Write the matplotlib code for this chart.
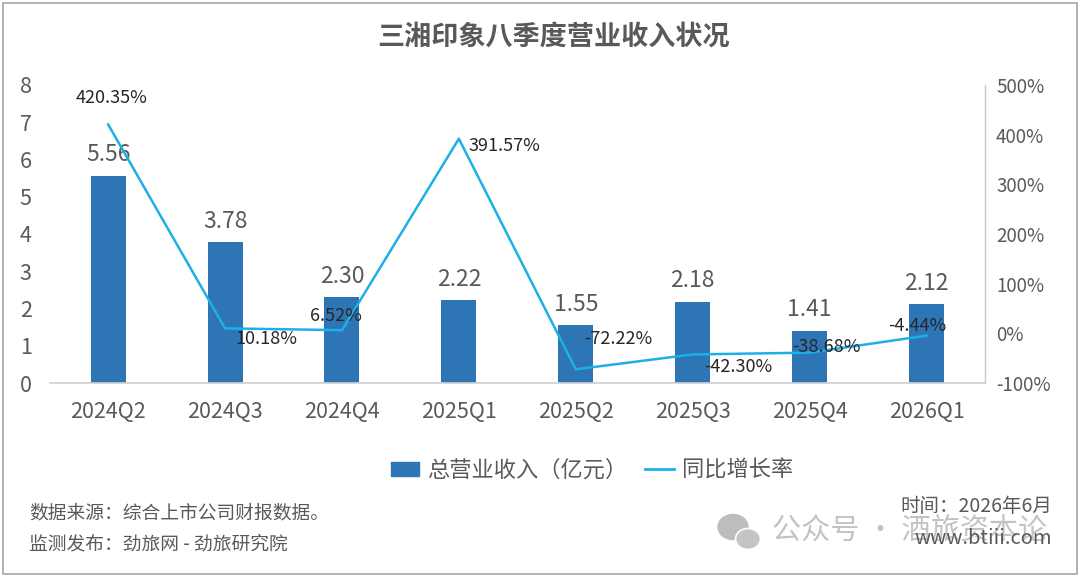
import matplotlib
matplotlib.use("Agg")
import matplotlib.pyplot as plt
from matplotlib.patches import Rectangle, Patch, Ellipse
from matplotlib.lines import Line2D
import numpy as np

plt.rcParams['font.family'] = ['Noto Sans CJK SC', 'DejaVu Sans']

# data
quarters = ['2024Q2', '2024Q3', '2024Q4', '2025Q1', '2025Q2', '2025Q3', '2025Q4', '2026Q1']
revenue = [5.56, 3.78, 2.30, 2.22, 1.55, 2.18, 1.41, 2.12]
growth = [420.35, 10.18, 6.52, 391.57, -72.22, -42.30, -38.68, -4.44]
left_ticks = [0, 1, 2, 3, 4, 5, 6, 7, 8]
right_ticks = [-100, 0, 100, 200, 300, 400, 500]

# label offsets for growth labels (pixels, right / up)
growth_offsets = [(3, 26), (41, -11), (-6, 14), (46, -7), (42, 30), (46, -13), (17, 6), (-9, 10)]

bar_color = '#2E75B6'
line_color = '#1DB0E6'
grey = '#595959'

fig = plt.figure(figsize=(10.8, 5.77), dpi=100)
fig.patches.append(Rectangle((0.003, 0.005), 0.994, 0.99, transform=fig.transFigure,
                             fill=False, edgecolor='#a6a6a6', linewidth=1.2))

ax = fig.add_axes([0.046, 0.336, 0.866, 0.517])
x = np.arange(len(quarters))
ax.bar(x, revenue, width=0.3, color=bar_color, zorder=2)
ax.set_xlim(-0.5, len(quarters) - 0.5)
ax.set_ylim(0, 8)
ax.set_yticks(left_ticks)
ax.set_xticks(x)
ax.set_xticklabels(quarters)
ax.tick_params(axis='both', length=0, labelsize=15.5, colors=grey)
ax.tick_params(axis='x', pad=13)
ax.tick_params(axis='y', pad=13)
for s in ['top', 'left', 'right']:
    ax.spines[s].set_visible(False)
ax.spines['bottom'].set_color('#d0d0d0')
ax.spines['bottom'].set_linewidth(1.2)

for xi, v in zip(x, revenue):
    ax.annotate('%.2f' % v, (xi, v), xytext=(0, 21), textcoords='offset pixels',
                ha='center', va='center', fontsize=16.5, color=grey)

ax2 = ax.twinx()
ax2.plot(x, growth, color=line_color, linewidth=1.8, zorder=3)
ax2.set_ylim(-100, 500)
ax2.set_yticks(right_ticks)
ax2.set_yticklabels(['%d%%' % t for t in right_ticks])
ax2.tick_params(axis='y', length=0, labelsize=13.5, colors=grey, pad=8)
for s in ['top', 'left', 'bottom']:
    ax2.spines[s].set_visible(False)
ax2.spines['right'].set_color('#c8c8c8')
ax2.spines['right'].set_linewidth(1)

for xi, g, (dx, dy) in zip(x, growth, growth_offsets):
    ax2.annotate('%.2f%%' % g, (xi, g), xytext=(dx, dy), textcoords='offset pixels',
                 ha='center', va='center', fontsize=13, color='#262626', zorder=4)

fig.text(0.513, 0.936, '三湘印象八季度营业收入状况', ha='center', va='center',
         fontsize=19.5, fontweight='bold', color=grey)

handles = [Patch(facecolor=bar_color, edgecolor=bar_color),
           Line2D([0], [0], color=line_color, linewidth=2)]
fig.legend(handles, ['总营业收入（亿元）', '同比增长率'], loc='center',
           bbox_to_anchor=(0.548, 1 - 470 / 577), ncol=2, frameon=False,
           fontsize=16, labelcolor=grey, handlelength=1.3, handleheight=0.6,
           handletextpad=0.35, columnspacing=0.8)

fig.text(0.027, 1 - 513 / 577, '数据来源：综合上市公司财报数据。', ha='left', va='center',
         fontsize=13.5, color=grey)
fig.text(0.027, 1 - 544 / 577, '监测发布：劲旅网 - 劲旅研究院', ha='left', va='center',
         fontsize=13.5, color=grey)
fig.text(0.974, 1 - 507 / 577, '时间：2026年6月', ha='right', va='center',
         fontsize=14, color=grey)

# watermark overlay
fig.text(0.970, 1 - 532 / 577, '公众号 · 酒旅资本论', ha='right', va='center',
         fontsize=21, color='#bdbdbd', alpha=0.9)
fig.patches.append(Ellipse((733 / 1080, 1 - 527 / 577), 30 / 1080, 25 / 577,
                           transform=fig.transFigure, color='#bdbdbd'))
fig.patches.append(Ellipse((748 / 1080, 1 - 539 / 577), 25 / 1080, 21 / 577,
                           transform=fig.transFigure, facecolor='#c4c4c4',
                           edgecolor='white', linewidth=1.2))
fig.text(0.974, 1 - 538 / 577, 'www.btiii.com', ha='right', va='center',
         fontsize=14.5, color=grey)

fig.savefig('out.png', dpi=100)
